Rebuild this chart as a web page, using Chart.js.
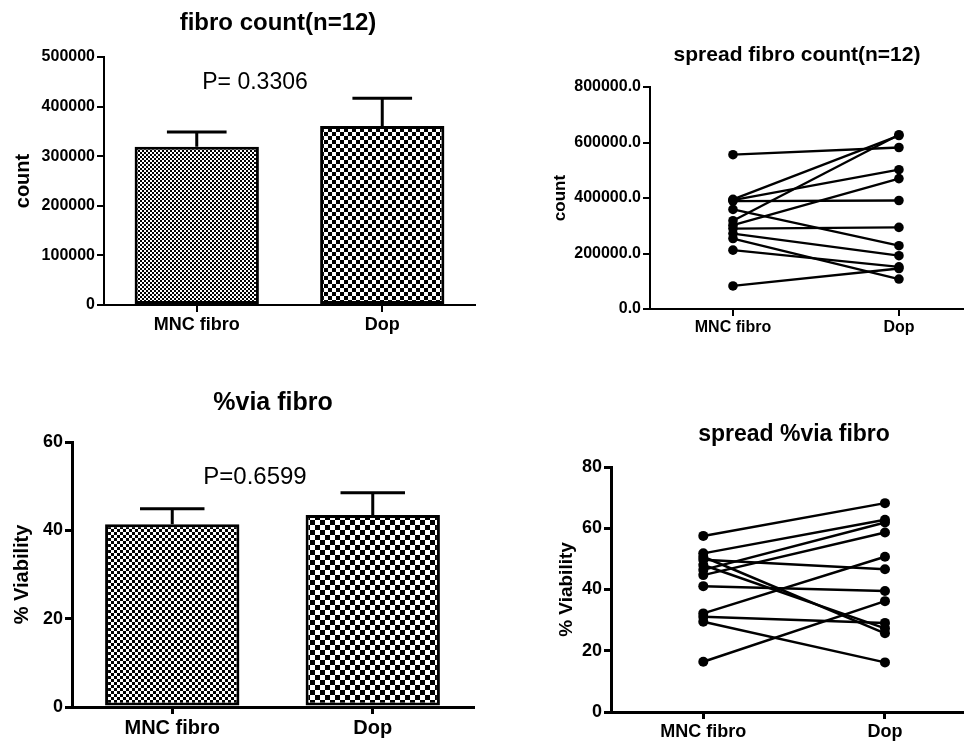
<!DOCTYPE html>
<html>
<head>
<meta charset="utf-8">
<title>fibro</title>
<script src="https://cdn.jsdelivr.net/npm/chart.js@4.4.1/dist/chart.umd.min.js"></script>
<style>
  body { margin: 0; width: 971px; height: 742px; overflow: hidden; background: #fff; position: relative; }
  canvas { position: absolute; }
</style>
</head>
<body>
<canvas id="graficoContagem" width="485" height="345" style="left:0px;top:0px;width:485px;height:345px"></canvas>
<canvas id="graficoSpreadContagem" width="441" height="350" style="left:530px;top:0px;width:441px;height:350px"></canvas>
<canvas id="graficoViabilidade" width="485" height="372" style="left:0px;top:370px;width:485px;height:372px"></canvas>
<canvas id="graficoSpreadViabilidade" width="441" height="372" style="left:530px;top:370px;width:441px;height:372px"></canvas>
<script>
const categorias = ["MNC fibro", "Dop"];

// barras (media + erro)
const mediaContagem = [319000, 361000];
const erroContagem = [30000, 56000];
const ticksContagem = [0, 100000, 200000, 300000, 400000, 500000];

const mediaViabilidade = [41.4, 43.5];
const erroViabilidade = [3.5, 5.0];
const ticksViabilidade = [0, 20, 40, 60];

// pares (n=12)
const mncContagem = [556000, 395000, 392000, 389000, 359000, 318000, 302000, 290000, 272000, 254000, 212000, 83000];
const dopContagem = [582000, 625000, 502000, 391000, 228000, 628000, 470000, 294000, 192000, 108000, 152000, 146000];
const ticksSpreadContagem = [0, 200000, 400000, 600000, 800000];

const mncViabilidade = [57.5, 51.8, 46.4, 44.7, 49.7, 41.1, 16.4, 32.2, 31.1, 29.5, 50.7, 48.0];
const dopViabilidade = [68.2, 62.8, 61.9, 58.6, 46.6, 39.5, 36.2, 50.7, 29.1, 16.2, 25.7, 27.3];
const ticksSpreadViabilidade = [0, 20, 40, 60, 80];

Chart.defaults.font.family = 'Arial, "Liberation Sans", sans-serif';
Chart.defaults.color = "#000";
Chart.defaults.animation = false;

function padraoXadrez(ctx, celula) {
  const c = document.createElement("canvas");
  c.width = celula * 2;
  c.height = celula * 2;
  const g = c.getContext("2d");
  g.fillStyle = "#fff";
  g.fillRect(0, 0, c.width, c.height);
  g.fillStyle = "#000";
  g.fillRect(0, 0, celula, celula);
  g.fillRect(celula, celula, celula, celula);
  return ctx.createPattern(c, "repeat");
}

function criarPluginErro(medias, erros, espessura) {
  return {
    id: "barraErro",
    afterDatasetsDraw(chart) {
      const meta = chart.getDatasetMeta(0);
      const escalaY = chart.scales.y;
      const ctx = chart.ctx;
      ctx.save();
      ctx.strokeStyle = "#000";
      ctx.lineWidth = espessura;
      meta.data.forEach(function (barra, i) {
        const topo = escalaY.getPixelForValue(medias[i] + erros[i]);
        const meia = barra.width * 0.24;
        ctx.beginPath();
        ctx.moveTo(barra.x, barra.y);
        ctx.lineTo(barra.x, topo);
        ctx.moveTo(barra.x - meia, topo);
        ctx.lineTo(barra.x + meia, topo);
        ctx.stroke();
      });
      ctx.restore();
    }
  };
}

function criarPluginTexto(itens) {
  return {
    id: "textos",
    afterDraw(chart) {
      const ctx = chart.ctx;
      ctx.save();
      ctx.fillStyle = "#000";
      ctx.textAlign = "center";
      ctx.textBaseline = "alphabetic";
      itens.forEach(function (t) {
        ctx.font = t.fonte;
        ctx.fillText(t.texto, t.x, t.y);
      });
      ctx.restore();
    }
  };
}

function eixoY(lista, largura, fonte, titulo, fonteTitulo, padTitulo, espessura, formato) {
  return {
    min: lista[0],
    max: lista[lista.length - 1],
    afterBuildTicks: function (escala) {
      escala.ticks = lista.map(function (v) { return { value: v }; });
    },
    afterFit: function (escala) { escala.width = largura; },
    border: { display: true, color: "#000", width: espessura },
    grid: { display: true, drawOnChartArea: false, drawTicks: true, tickLength: 7, color: "#000", lineWidth: espessura },
    ticks: { color: "#000", padding: 2, font: { size: fonte, weight: "bold" }, callback: formato },
    title: { display: true, text: titulo, color: "#000", font: { size: fonteTitulo, weight: "bold" }, padding: { top: padTitulo, bottom: 0 } }
  };
}

function eixoXCategoria(altura, fonte, espessura) {
  return {
    type: "category",
    offset: true,
    afterFit: function (escala) { escala.height = altura; },
    border: { display: true, color: "#000", width: espessura },
    grid: { display: true, offset: false, drawOnChartArea: false, drawTicks: true, tickLength: 7, color: "#000", lineWidth: espessura },
    ticks: { color: "#000", padding: 2, font: { size: fonte, weight: "bold" } }
  };
}

function eixoXPares(min, max, altura, fonte, espessura) {
  return {
    type: "linear",
    min: min,
    max: max,
    afterBuildTicks: function (escala) {
      escala.ticks = categorias.map(function (c, i) { return { value: i }; });
    },
    afterFit: function (escala) { escala.height = altura; },
    border: { display: true, color: "#000", width: espessura },
    grid: { display: true, drawOnChartArea: false, drawTicks: true, tickLength: 7, color: "#000", lineWidth: espessura },
    ticks: {
      color: "#000", padding: 2, font: { size: fonte, weight: "bold" },
      callback: function (v) { return categorias[v]; }
    }
  };
}

function criarBarras(id, medias, erros, lista, celulas, espessura, fontes, titulo, textos, padding) {
  const canvas = document.getElementById(id);
  const ctx = canvas.getContext("2d");
  new Chart(canvas, {
    type: "bar",
    data: {
      labels: categorias,
      datasets: [{
        data: medias,
        backgroundColor: [padraoXadrez(ctx, celulas[0]), padraoXadrez(ctx, celulas[1])],
        borderColor: "#000",
        borderWidth: 3,
        borderSkipped: false,
        barPercentage: 0.67,
        categoryPercentage: 1
      }]
    },
    options: {
      responsive: false,
      layout: { padding: padding },
      plugins: { legend: { display: false }, tooltip: { enabled: false } },
      scales: {
        x: eixoXCategoria(fontes.alturaX, fontes.x, espessura),
        y: eixoY(lista, fontes.larguraY, fontes.y, titulo.texto, titulo.fonte, titulo.pad, espessura,
          function (v) { return String(v); })
      }
    },
    plugins: [criarPluginErro(medias, erros, 3), criarPluginTexto(textos)]
  });
}

function criarPares(id, mnc, dop, lista, xMin, xMax, raio, linha, espessura, fontes, titulo, textos, padding, formato) {
  const canvas = document.getElementById(id);
  let datasets = [];
  for (let i = 0; i < mnc.length; i++) {
    datasets.push({
      data: [{ x: 0, y: mnc[i] }, { x: 1, y: dop[i] }],
      borderColor: "#000",
      borderWidth: linha,
      backgroundColor: "#000",
      pointRadius: raio,
      pointBackgroundColor: "#000",
      pointBorderWidth: 0,
      clip: false
    });
  }
  new Chart(canvas, {
    type: "line",
    data: { datasets: datasets },
    options: {
      responsive: false,
      layout: { padding: padding },
      plugins: { legend: { display: false }, tooltip: { enabled: false } },
      scales: {
        x: eixoXPares(xMin, xMax, fontes.alturaX, fontes.x, espessura),
        y: eixoY(lista, fontes.larguraY, fontes.y, titulo.texto, titulo.fonte, titulo.pad, espessura, formato)
      }
    },
    plugins: [criarPluginTexto(textos)]
  });
}

criarBarras("graficoContagem", mediaContagem, erroContagem, ticksContagem, [2, 4], 2,
  { x: 18, y: 16, alturaX: 40, larguraY: 104 },
  { texto: "count", fonte: 20, pad: 11 },
  [
    { texto: "fibro count(n=12)", fonte: 'bold 24px Arial, "Liberation Sans", sans-serif', x: 278, y: 30 },
    { texto: "P= 0.3306", fonte: '23px Arial, "Liberation Sans", sans-serif', x: 255, y: 89 }
  ],
  { top: 57, right: 10, bottom: 0, left: 0 });

criarPares("graficoSpreadContagem", mncContagem, dopContagem, ticksSpreadContagem, -0.5, 1.386, 4.8, 2.3, 2,
  { x: 16, y: 16, alturaX: 41, larguraY: 120 },
  { texto: "count", fonte: 17, pad: 20 },
  [
    { texto: "spread fibro count(n=12)", fonte: 'bold 21px Arial, "Liberation Sans", sans-serif', x: 267, y: 61 }
  ],
  { top: 87, right: 8, bottom: 0, left: 0 },
  function (v) { return v.toFixed(1); });

criarBarras("graficoViabilidade", mediaViabilidade, erroViabilidade, ticksViabilidade, [3, 5], 3,
  { x: 20, y: 18, alturaX: 35, larguraY: 72 },
  { texto: "% Viability", fonte: 20, pad: 10 },
  [
    { texto: "%via fibro", fonte: 'bold 25px Arial, "Liberation Sans", sans-serif', x: 273, y: 40 },
    { texto: "P=0.6599", fonte: '24px Arial, "Liberation Sans", sans-serif', x: 255, y: 114 }
  ],
  { top: 72, right: 12, bottom: 0, left: 0 });

criarPares("graficoSpreadViabilidade", mncViabilidade, dopViabilidade, ticksSpreadViabilidade, -0.508, 1.424, 5, 2.5, 3,
  { x: 18, y: 18, alturaX: 30, larguraY: 81 },
  { texto: "% Viability", fonte: 19, pad: 25 },
  [
    { texto: "spread %via fibro", fonte: 'bold 23px Arial, "Liberation Sans", sans-serif', x: 264, y: 71 }
  ],
  { top: 97, right: 9, bottom: 0, left: 0 },
  function (v) { return String(v); });
</script>
</body>
</html>
